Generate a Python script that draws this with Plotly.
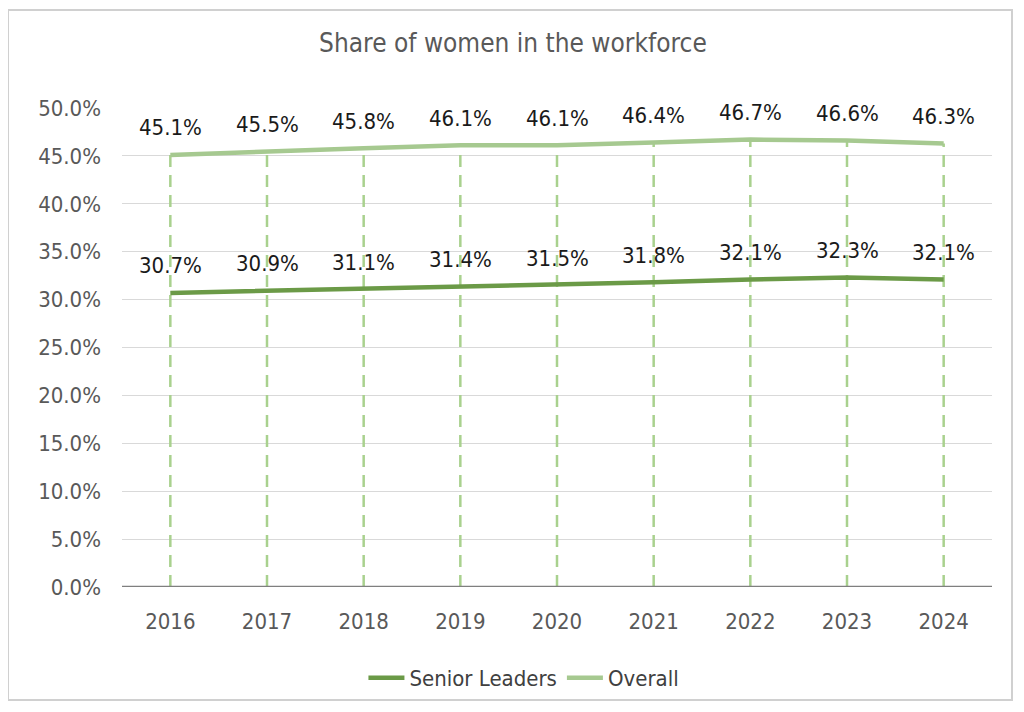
import plotly.graph_objects as go

years = ["2016", "2017", "2018", "2019", "2020", "2021", "2022", "2023", "2024"]
senior = [30.7, 30.9, 31.1, 31.4, 31.5, 31.8, 32.1, 32.3, 32.1]
overall = [45.1, 45.5, 45.8, 46.1, 46.1, 46.4, 46.7, 46.6, 46.3]
yticks = [0, 5, 10, 15, 20, 25, 30, 35, 40, 45, 50]

FONT = "DejaVu Sans Condensed, sans-serif"

fig = go.Figure()

# drop lines from the higher series to the axis
dx, dy = [], []
for yr, v in zip(years, overall):
    dx += [yr, yr, None]
    dy += [0, v, None]
fig.add_trace(go.Scatter(x=dx, y=dy, mode="lines", showlegend=False, hoverinfo="skip",
                         line=dict(color="#a9d18e", width=2.5, dash="12px,8px")))

fig.add_trace(go.Scatter(x=years, y=senior, name="Senior Leaders", mode="lines",
                         line=dict(color="#6b9a47", width=4.5)))
fig.add_trace(go.Scatter(x=years, y=overall, name="Overall", mode="lines",
                         line=dict(color="#a6c990", width=4.5)))

annotations = []
for series in (senior, overall):
    for i, v in enumerate(series):
        annotations.append(dict(x=i, y=v, xref="x", yref="y", text=f"{v:.1f}%",
                                showarrow=False, yshift=27, yanchor="middle",
                                font=dict(size=22, color="#1a1a1a", family=FONT)))

fig.update_layout(
    width=1016, height=704,
    margin=dict(l=114, r=32, t=100, b=125),
    paper_bgcolor="white", plot_bgcolor="white",
    font=dict(family=FONT, color="#595959"),
    title=dict(text="Share of women in the workforce", x=0.497, xanchor="center",
               y=1 - 35 / 704, yanchor="middle", font=dict(size=26, color="#595959", family=FONT)),
    showlegend=True,
    legend=dict(orientation="h", x=0.462, xanchor="center", y=-0.19, yanchor="middle",
                font=dict(size=22, color="#404040", family=FONT), itemwidth=36,
                traceorder="normal"),
    xaxis=dict(type="category", range=[-0.5, len(years) - 0.5], showgrid=False, ticks="",
               showline=False, tickfont=dict(size=22, color="#595959"), ticklabelstandoff=19),
    yaxis=dict(range=[0, 50], tickvals=yticks, ticktext=[f"{v:.1f}%" for v in yticks],
               showgrid=True, gridcolor="#d9d9d9", gridwidth=1, zeroline=False,
               tickfont=dict(size=22, color="#595959"), ticks="", showline=False,
               ticklabelstandoff=20),
    annotations=annotations,
    shapes=[
        dict(type="line", xref="paper", yref="y", x0=0, x1=1, y0=0, y1=0,
             line=dict(color="#7f7f7f", width=2.5), layer="above"),
        dict(type="rect", xref="paper", yref="paper", x0=-114 / 870, x1=(1004 - 114) / 870,
             y0=-(692 - 579) / 479, y1=(579 - 2) / 479,
             line=dict(color="#d0d0d0", width=2)),
    ],
)

fig.write_html("out.html")
